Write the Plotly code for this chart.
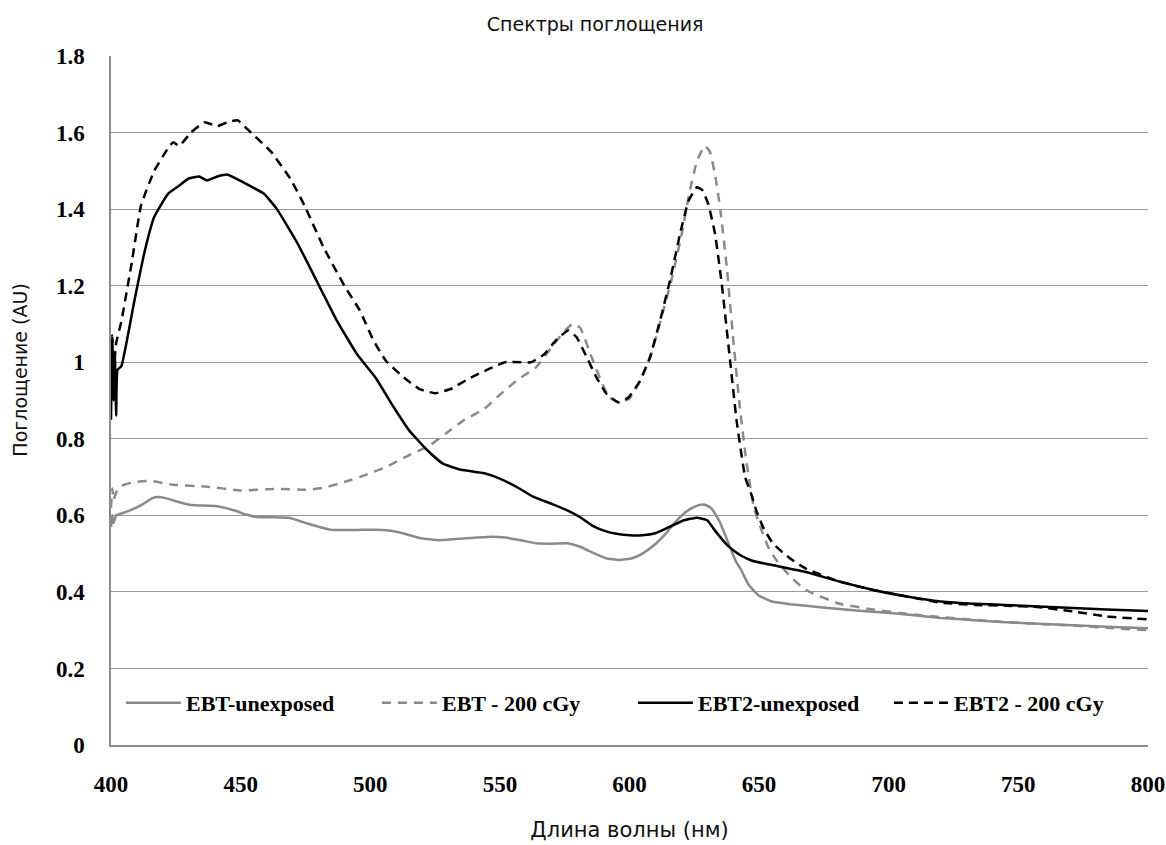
import plotly.graph_objects as go

# ---- data ----
ebt_unexp_wl = [400, 400.5, 401, 402, 405, 408, 412, 416, 418, 421, 425, 431, 441, 448, 452, 457, 463, 469, 476,
                485, 495, 505, 511, 519, 527, 537, 547, 552, 558, 564, 570, 576, 581, 586, 591, 596, 601, 605,
                610, 614, 618, 622, 625, 628, 630, 632, 635, 638, 641, 643, 646, 650, 655, 662, 668, 681, 694,
                707, 720, 733, 745, 758, 771, 784, 800]
ebt_unexp_abs = [0.57, 0.60, 0.58, 0.60, 0.607, 0.615, 0.628, 0.645, 0.648, 0.645, 0.637, 0.627, 0.624, 0.612,
                 0.602, 0.595, 0.595, 0.593, 0.578, 0.562, 0.562, 0.562, 0.556, 0.541, 0.535, 0.540, 0.544,
                 0.542, 0.535, 0.527, 0.526, 0.527, 0.518, 0.502, 0.488, 0.483, 0.488, 0.500, 0.525, 0.552,
                 0.585, 0.610, 0.622, 0.628, 0.625, 0.615, 0.580, 0.530, 0.480, 0.458, 0.418, 0.390, 0.375,
                 0.368, 0.364, 0.355, 0.348, 0.341, 0.332, 0.326, 0.321, 0.317, 0.313, 0.309, 0.305]

ebt_200_wl = [400, 400.5, 401, 402, 404, 409, 415, 424, 437, 450, 463, 476, 482, 490, 498, 506, 515, 523, 529,
              536, 544, 550, 557, 564, 569, 574, 578, 581, 585, 589, 592, 596, 600, 604, 608, 612, 616, 620,
              623, 626, 629, 631, 633, 635, 637.5, 640, 642.6, 645, 648, 651, 654, 657, 662, 668, 681, 694,
              707, 720, 733, 745, 758, 771, 784, 800]
ebt_200_abs = [0.62, 0.67, 0.64, 0.66, 0.677, 0.687, 0.690, 0.680, 0.675, 0.665, 0.669, 0.667, 0.672, 0.687,
               0.705, 0.726, 0.757, 0.783, 0.813, 0.848, 0.878, 0.915, 0.955, 0.987, 1.03, 1.074, 1.10, 1.09,
               1.02, 0.952, 0.909, 0.895, 0.905, 0.95, 1.013, 1.109, 1.21, 1.33, 1.44, 1.525, 1.565, 1.55,
               1.49, 1.40, 1.25, 1.06, 0.88, 0.745, 0.62, 0.56, 0.51, 0.48, 0.44, 0.405, 0.369, 0.354,
               0.343, 0.334, 0.327, 0.321, 0.316, 0.312, 0.306, 0.300]

ebt2_unexp_wl = [400, 400.5, 401, 401.5, 402, 402.5, 404, 409, 413, 416.7, 422, 426, 430, 434, 437, 441, 445,
                 451, 459, 464, 472, 481, 487, 495, 502, 509, 515, 522, 528, 535, 544, 550, 557, 563, 570,
                 576, 581, 586, 591, 595, 600, 605, 610, 614, 618, 621, 626, 630, 633, 635, 638, 640, 643,
                 647, 655, 668, 681, 694, 707, 720, 733, 745, 758, 771, 784, 800]
ebt2_unexp_abs = [0.85, 1.06, 0.90, 1.02, 0.86, 0.98, 0.99, 1.16, 1.29, 1.38, 1.44, 1.46, 1.48, 1.485, 1.475,
                  1.485, 1.49, 1.47, 1.44, 1.40, 1.31, 1.19, 1.11, 1.02, 0.96, 0.883, 0.822, 0.77, 0.735,
                  0.719, 0.71, 0.696, 0.672, 0.648, 0.630, 0.613, 0.595, 0.572, 0.558, 0.552, 0.548, 0.548,
                  0.553, 0.565, 0.578, 0.587, 0.594, 0.587, 0.560, 0.543, 0.520, 0.509, 0.495, 0.482, 0.470,
                  0.452, 0.427, 0.405, 0.388, 0.375, 0.369, 0.366, 0.362, 0.358, 0.354, 0.350]

ebt2_200_wl = [400, 400.5, 401, 402, 404, 408, 411.6, 416.7, 421.8, 424, 426.3, 430.8, 436, 441, 445, 448.8,
               454, 461.7, 469.4, 474.6, 482, 490, 496, 501, 506, 513, 519, 525, 531, 538, 546, 552, 558, 562,
               567, 572, 576.4, 579.6, 583.5, 587.3, 591.2, 595.7, 599.6, 604.1, 607.9, 611.8, 615.6, 619.5,
               622.7, 626, 628, 630.4, 633, 635.6, 638.8, 641.3, 644.6, 647, 649, 651.6, 655.5, 662, 668, 681,
               694, 707, 720, 733, 745, 758, 771, 784, 800]
ebt2_200_abs = [0.95, 1.07, 0.98, 1.05, 1.107, 1.26, 1.41, 1.50, 1.557, 1.575, 1.565, 1.60, 1.627, 1.617,
                1.627, 1.632, 1.60, 1.55, 1.477, 1.41, 1.30, 1.20, 1.135, 1.06, 1.004, 0.96, 0.93, 0.919,
                0.93, 0.957, 0.983, 1.0, 1.0, 1.0, 1.02, 1.06, 1.083, 1.065, 1.013, 0.96, 0.917, 0.895,
                0.908, 0.952, 1.013, 1.109, 1.213, 1.335, 1.42, 1.457, 1.45, 1.413, 1.335, 1.204, 1.004,
                0.848, 0.70, 0.655, 0.611, 0.568, 0.525, 0.487, 0.461, 0.427, 0.405, 0.388, 0.372, 0.366,
                0.364, 0.360, 0.349, 0.336, 0.328]

series_names = ["EBT-unexposed", "EBT - 200 cGy", "EBT2-unexposed", "EBT2 - 200 cGy"]
x_ticks = [400, 450, 500, 550, 600, 650, 700, 750, 800]
y_title = "Поглощение (AU)"

GRAY = "#8a8a8a"
BLACK = "#000000"
styles = [
    (GRAY, "solid"),
    (GRAY, "9px,7px"),
    (BLACK, "solid"),
    (BLACK, "9px,6px"),
]
data = [
    (ebt_unexp_wl, ebt_unexp_abs),
    (ebt_200_wl, ebt_200_abs),
    (ebt2_unexp_wl, ebt2_unexp_abs),
    (ebt2_200_wl, ebt2_200_abs),
]

fig = go.Figure()
for name, (wl, ab), (col, dash) in zip(series_names, data, styles):
    fig.add_trace(go.Scatter(
        x=wl, y=ab, mode="lines", name=name,
        line=dict(color=col, width=2.5, dash=dash, shape="spline", smoothing=0.4),
    ))

serif_bold = "Liberation Serif"
sans = "DejaVu Sans"
fig.update_layout(
    width=1166, height=845,
    margin=dict(l=111, r=18, t=56, b=100),
    paper_bgcolor="white", plot_bgcolor="white",
    title=dict(text="Спектры поглощения", x=0.5104, xanchor="center", y=0.971, yanchor="middle",
               font=dict(family=sans, size=19, color="#111111")),
    showlegend=True,
    legend=dict(
        orientation="h", x=0.0096, xanchor="left", y=0.061, yanchor="middle",
        bgcolor="rgba(0,0,0,0)", itemwidth=55,
        entrywidth=186, entrywidthmode="pixels",
        font=dict(family=serif_bold, size=22, color="#000000", weight="bold"),
    ),
    xaxis=dict(
        range=[400, 800], tickvals=x_ticks, ticktext=[str(v) for v in x_ticks],
        showgrid=False, zeroline=False, showline=True, linecolor="#8c8c8c", linewidth=1.5,
        ticks="", ticklabelstandoff=18, automargin=False,
        tickfont=dict(family=serif_bold, size=23, color="#000000", weight="bold"),
        title=dict(text="Длина волны (нм)", standoff=26,
                   font=dict(family=sans, size=21, color="#111111")),
    ),
    yaxis=dict(
        range=[0, 1.8], dtick=0.2, tick0=0,
        showgrid=True, gridcolor="#9a9a9a", gridwidth=1.2,
        zeroline=False, showline=True, linecolor="#8c8c8c", linewidth=1.5,
        ticks="", ticklabelstandoff=20, automargin=False,
        tickfont=dict(family=serif_bold, size=23, color="#000000", weight="bold"),
    ),
    annotations=[dict(
        text=y_title, xref="paper", yref="paper", x=-0.0873, y=0.544,
        xanchor="center", yanchor="middle", textangle=-90, showarrow=False,
        font=dict(family=sans, size=19, color="#111111"),
    )],
)

fig.write_html("out.html")
